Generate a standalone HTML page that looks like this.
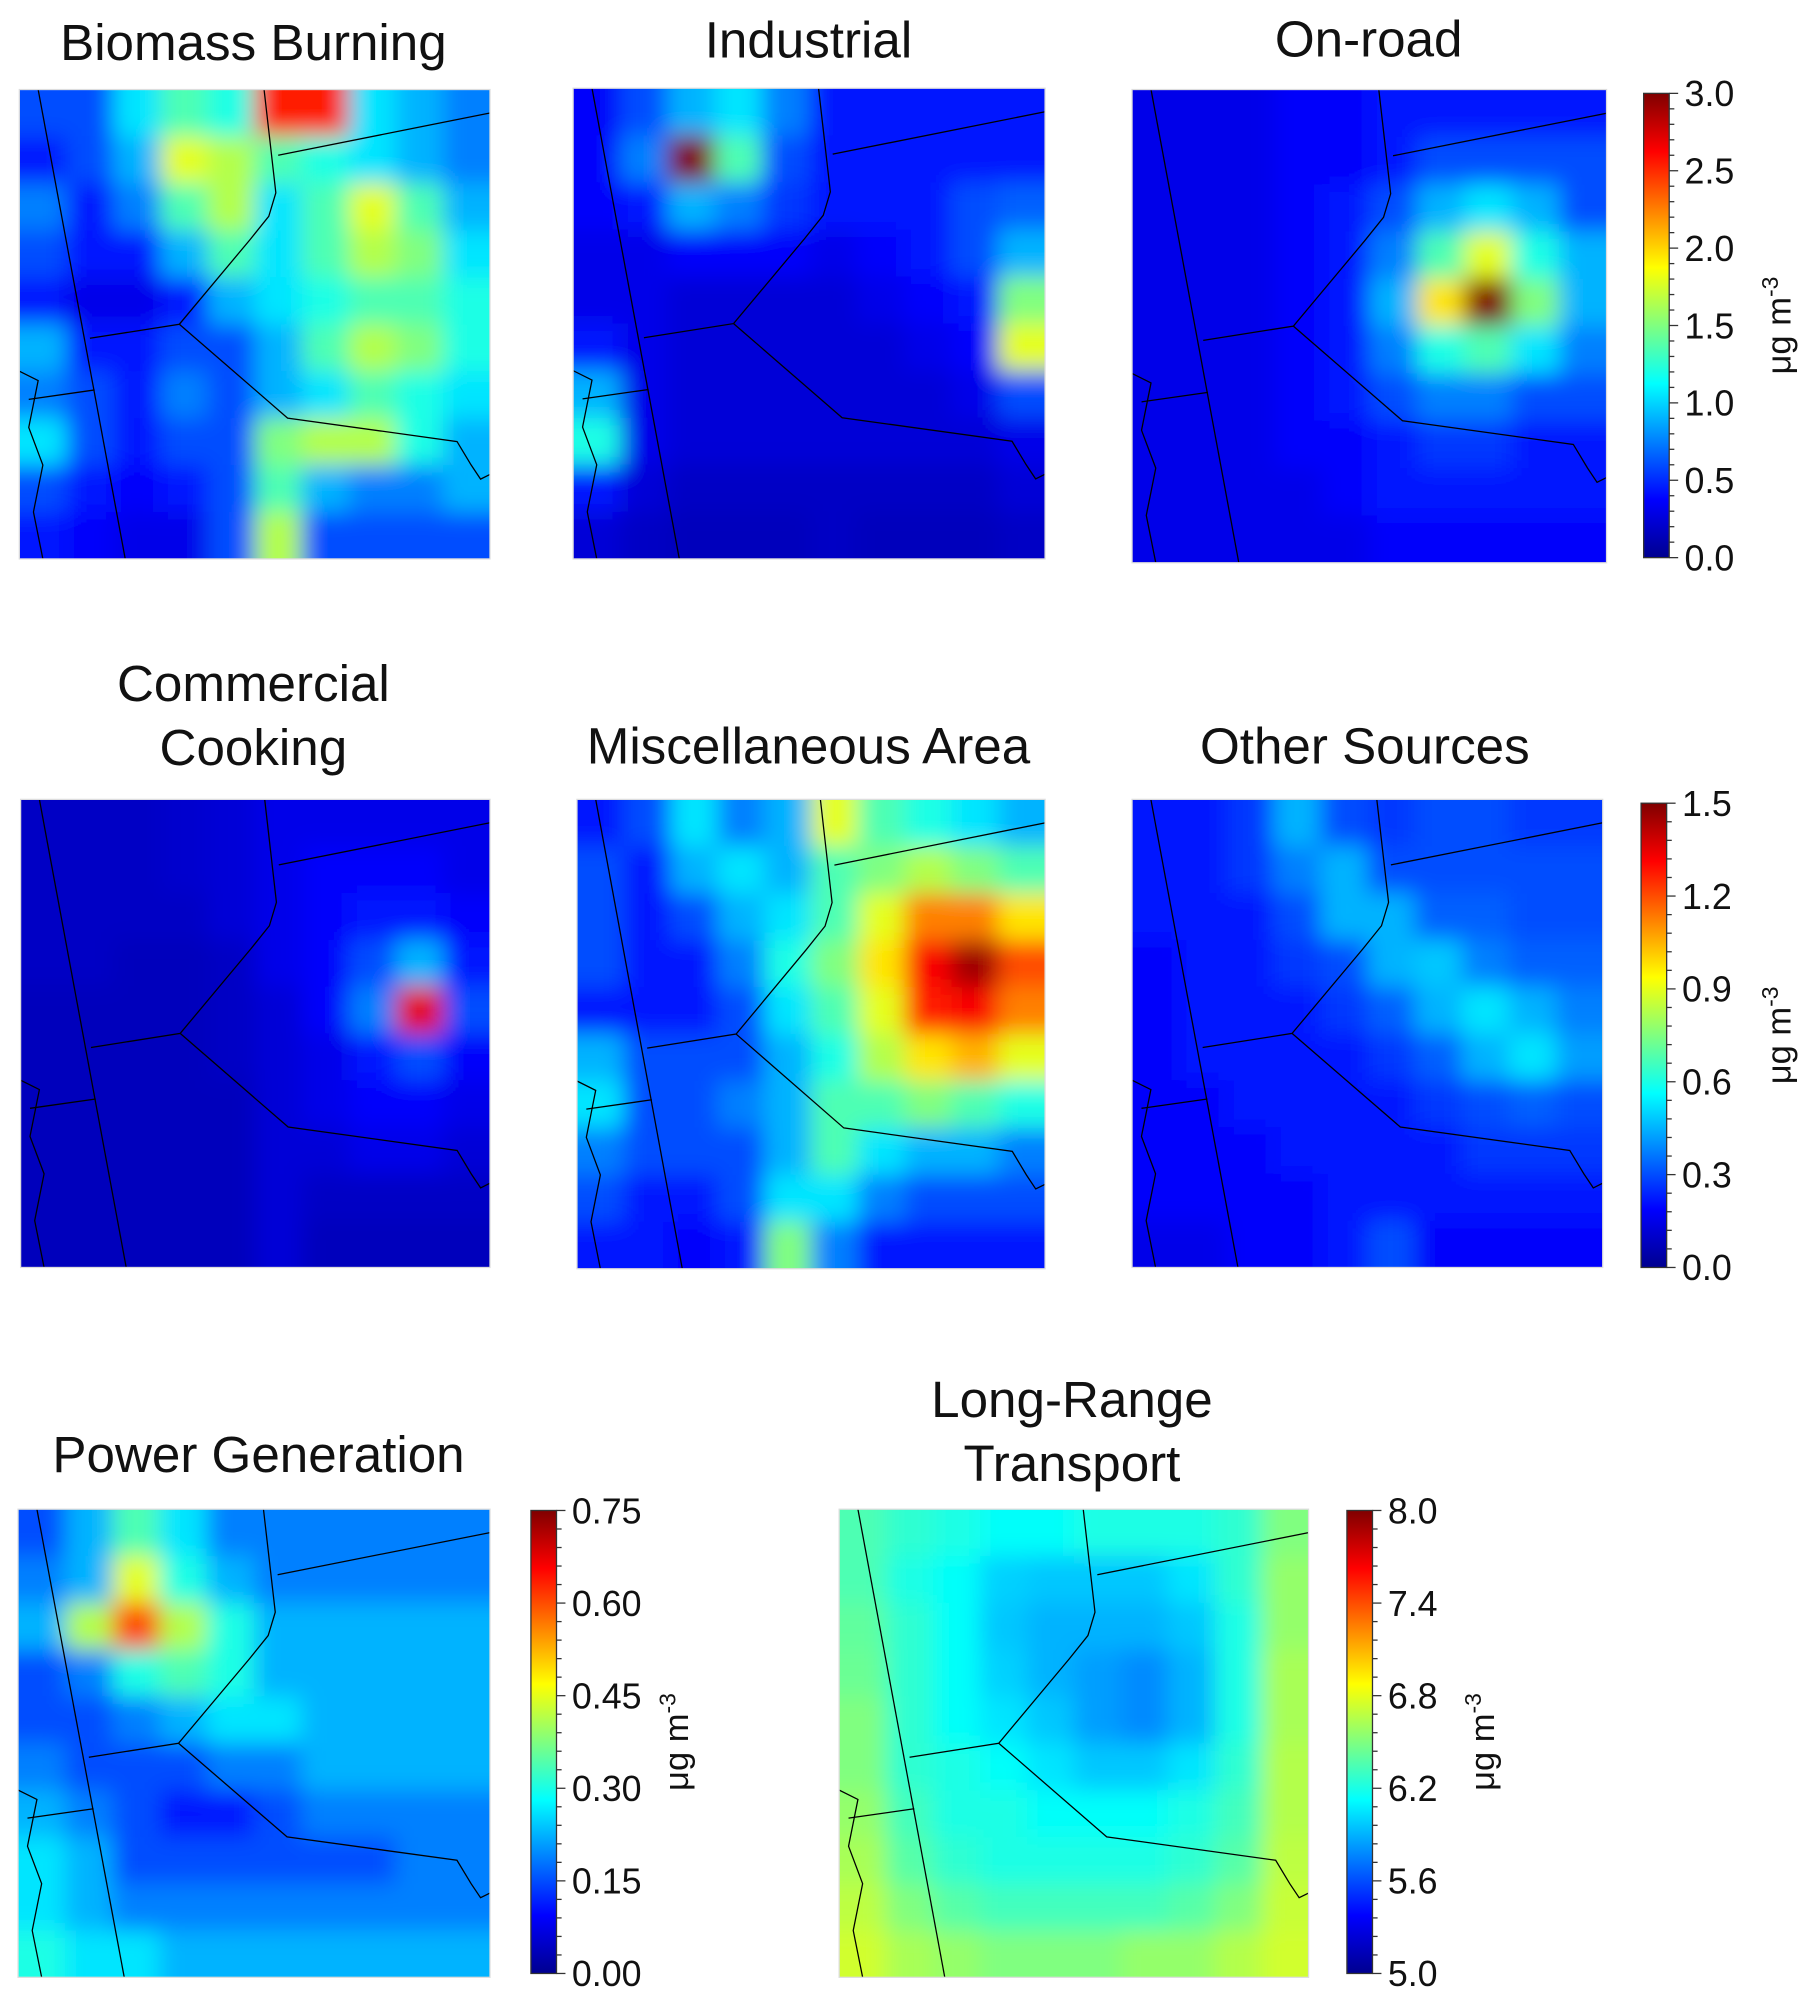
<!DOCTYPE html>
<html><head><meta charset="utf-8"><style>
html,body{margin:0;padding:0;background:#fff;}
svg{display:block;}
text{font-family:"Liberation Sans",Arial,sans-serif;fill:#111;}
</style></head><body>
<svg id="fig" width="1819" height="2008" viewBox="0 0 1422 1570" xmlns="http://www.w3.org/2000/svg">
<defs>
<linearGradient id="jet" x1="0" y1="1" x2="0" y2="0">
<stop offset="0" stop-color="#00008f"/><stop offset="0.125" stop-color="#0000ff"/>
<stop offset="0.375" stop-color="#00ffff"/><stop offset="0.625" stop-color="#ffff00"/>
<stop offset="0.875" stop-color="#ff0000"/><stop offset="1" stop-color="#800000"/>
</linearGradient>
<filter id="blur" x="-0.2" y="-0.2" width="1.4" height="1.4"><feGaussianBlur stdDeviation="9"/></filter>
</defs>
<g id="root"></g>
</svg>
<script>
// normalized values (fraction of each colorbar range), 10x10 grids, rows top->bottom
const biomass=[[.2,.2,.35,.45,.4,.85,.85,.35,.3,.25],[.15,.2,.3,.6,.55,.45,.4,.35,.3,.25],[.25,.15,.25,.45,.55,.35,.45,.6,.45,.3],[.2,.15,.15,.3,.45,.35,.45,.55,.5,.35],[.15,.1,.1,.15,.3,.35,.4,.45,.45,.4],[.3,.15,.15,.2,.2,.3,.45,.55,.5,.4],[.25,.2,.15,.25,.2,.3,.35,.45,.4,.35],[.35,.2,.15,.2,.2,.5,.55,.55,.4,.3],[.2,.15,.12,.15,.2,.45,.3,.25,.25,.3],[.15,.12,.1,.1,.2,.55,.2,.2,.2,.2]];
const industrial=[[.12,.2,.3,.35,.25,.15,.15,.15,.15,.15],[.12,.25,1,.45,.2,.15,.15,.15,.15,.15],[.12,.15,.3,.25,.18,.15,.15,.15,.2,.22],[.1,.1,.12,.12,.12,.1,.12,.15,.2,.3],[.1,.1,.08,.08,.08,.08,.1,.12,.15,.5],[.15,.1,.08,.08,.08,.08,.08,.1,.12,.6],[.3,.1,.08,.08,.08,.08,.08,.08,.1,.2],[.4,.1,.08,.08,.08,.08,.08,.08,.08,.1],[.15,.08,.06,.06,.06,.06,.06,.06,.06,.08],[.08,.06,.05,.05,.05,.06,.05,.05,.05,.06]];
const onroad=[[.1,.1,.1,.12,.12,.15,.15,.15,.15,.15],[.1,.1,.1,.12,.12,.15,.2,.2,.2,.2],[.1,.1,.1,.12,.15,.2,.3,.35,.3,.2],[.1,.1,.1,.12,.15,.25,.45,.6,.4,.3],[.1,.1,.1,.12,.15,.3,.65,1,.5,.3],[.1,.1,.1,.12,.15,.25,.4,.45,.35,.25],[.1,.1,.1,.12,.15,.2,.25,.25,.2,.2],[.1,.1,.1,.12,.12,.15,.18,.18,.15,.15],[.1,.1,.1,.1,.12,.15,.15,.15,.15,.15],[.1,.1,.1,.1,.1,.12,.12,.12,.12,.12]];
const cooking=[[.06,.06,.06,.07,.08,.1,.1,.1,.1,.1],[.06,.06,.06,.07,.08,.1,.12,.12,.12,.1],[.06,.06,.06,.06,.08,.1,.12,.15,.15,.12],[.06,.06,.05,.05,.06,.1,.12,.2,.3,.15],[.05,.05,.05,.05,.06,.08,.12,.25,.9,.2],[.05,.05,.05,.05,.06,.08,.1,.15,.2,.12],[.05,.05,.05,.05,.05,.08,.1,.12,.12,.1],[.05,.05,.05,.05,.05,.08,.08,.1,.1,.08],[.05,.05,.05,.05,.05,.08,.06,.06,.06,.06],[.05,.05,.05,.05,.05,.08,.05,.05,.05,.05]];
const misc=[[.15,.2,.35,.25,.3,.6,.45,.4,.35,.3],[.2,.15,.3,.35,.3,.45,.5,.55,.5,.45],[.2,.15,.2,.3,.35,.45,.6,.75,.75,.65],[.2,.15,.15,.25,.4,.5,.65,.88,.97,.8],[.15,.15,.15,.2,.35,.45,.6,.85,.88,.75],[.3,.2,.2,.2,.3,.4,.55,.65,.7,.6],[.35,.2,.2,.25,.3,.45,.45,.5,.45,.4],[.25,.2,.2,.2,.3,.45,.35,.3,.3,.25],[.2,.15,.15,.2,.35,.35,.25,.2,.2,.2],[.15,.15,.12,.15,.5,.25,.15,.15,.15,.15]];
const other=[[.15,.15,.18,.3,.2,.18,.2,.2,.18,.18],[.15,.15,.18,.25,.3,.2,.2,.2,.2,.2],[.15,.15,.15,.2,.3,.3,.22,.22,.2,.2],[.12,.15,.15,.18,.2,.3,.32,.25,.22,.22],[.12,.15,.15,.15,.18,.22,.3,.35,.3,.25],[.12,.15,.15,.15,.15,.18,.22,.3,.35,.28],[.12,.12,.15,.15,.15,.15,.18,.2,.22,.2],[.12,.12,.12,.15,.15,.15,.15,.18,.18,.18],[.12,.12,.12,.12,.15,.15,.15,.15,.15,.15],[.1,.1,.12,.12,.15,.2,.12,.12,.12,.12]];
const power=[[.2,.3,.45,.35,.25,.25,.25,.25,.25,.25],[.25,.3,.6,.4,.3,.25,.25,.25,.25,.25],[.3,.55,.8,.55,.4,.3,.3,.3,.3,.3],[.2,.25,.4,.45,.4,.3,.3,.3,.3,.3],[.2,.2,.25,.3,.35,.35,.3,.3,.3,.3],[.25,.2,.2,.2,.25,.25,.3,.3,.3,.3],[.3,.25,.2,.15,.15,.2,.25,.25,.25,.25],[.35,.3,.2,.2,.2,.2,.2,.2,.25,.25],[.35,.3,.25,.25,.25,.25,.25,.25,.25,.25],[.4,.35,.35,.3,.3,.3,.3,.3,.3,.3]];
const longrange=[[.45,.42,.4,.38,.38,.4,.4,.4,.42,.5],[.45,.4,.38,.33,.32,.32,.32,.35,.42,.52],[.47,.42,.38,.32,.3,.3,.3,.32,.4,.52],[.48,.42,.38,.33,.3,.28,.26,.3,.4,.54],[.5,.42,.38,.35,.32,.28,.26,.3,.4,.54],[.5,.42,.4,.38,.35,.32,.32,.35,.42,.55],[.52,.44,.4,.4,.38,.38,.38,.4,.44,.55],[.54,.46,.42,.4,.4,.4,.4,.42,.46,.56],[.56,.5,.46,.44,.44,.44,.44,.46,.5,.57],[.58,.54,.52,.5,.5,.5,.52,.52,.55,.58]];
const ticks1=["3.0","2.5","2.0","1.5","1.0","0.5","0.0"];
const ticks2=["1.5","1.2","0.9","0.6","0.3","0.0"];
const ticks3=["0.75","0.60","0.45","0.30","0.15","0.00"];
const ticks4=["8.0","7.4","6.8","6.2","5.6","5.0"];

const NS="http://www.w3.org/2000/svg";
const root=document.getElementById('root');
function mk(tag,attrs,parent){const e=document.createElementNS(NS,tag);for(const k in attrs)e.setAttribute(k,attrs[k]);(parent||root).appendChild(e);return e;}
function jet(v){v=Math.max(0,Math.min(1,v));
 const st=[[0,0,0,143],[.125,0,0,255],[.375,0,255,255],[.625,255,255,0],[.875,255,0,0],[1,128,0,0]];
 for(let i=1;i<st.length;i++){if(v<=st[i][0]){const a=st[i-1],b=st[i],t=(v-a[0])/(b[0]-a[0]);
 return `rgb(${Math.round(a[1]+t*(b[1]-a[1]))},${Math.round(a[2]+t*(b[2]-a[2]))},${Math.round(a[3]+t*(b[3]-a[3]))})`;}}return 'rgb(128,0,0)';}
let cid=0;
function panel(name,grid,x,y,w,h){
 const g=mk('g',{});
 
 
 const id='c'+(cid++);
 const cp=mk('clipPath',{id:id},g);mk('rect',{x:x,y:y,width:w,height:h},cp);
 const cells=mk('g',{'clip-path':`url(#${id})`},g);
 const inner=mk('g',{filter:'url(#blur)'},cells);
 const rows=grid.length,cols=grid[0].length,cw=w/cols,ch=h/rows,pad=30;
 grid.forEach((row,r)=>row.forEach((v,c)=>{
  const x0=x+c*cw-(c===0?pad:0), y0=y+r*ch-(r===0?pad:0);
  const ww=cw+0.5+(c===0?pad:0)+(c===cols-1?pad:0), hh=ch+0.5+(r===0?pad:0)+(r===rows-1?pad:0);
  const re=mk('rect',{x:x0,y:y0,width:ww,height:hh,fill:jet(v)},inner);
  
  
 }));
 const P=(a,b)=>`${x+a*w} ${y+b*h}`;
 const bl=mk('g',{fill:'none',stroke:'#000','stroke-width':1,'clip-path':`url(#${id})`},g);
 
 
 mk('path',{d:`M${P(.04,0)} L${P(.225,1)}`},bl);
 mk('path',{d:`M${P(.52,0)} L${P(.545,.22)} L${P(.53,.27)} L${P(.49,.32)} L${P(.34,.5)} L${P(.15,.53)}`},bl);
 mk('path',{d:`M${P(.34,.5)} L${P(.57,.7)} L${P(.93,.75)} L${P(.96,.8)} L${P(.98,.83)} L${P(1,.82)}`},bl);
 mk('path',{d:`M${P(.55,.14)} L${P(1,.05)}`},bl);
 mk('path',{d:`M${P(0,.6)} L${P(.04,.62)} L${P(.02,.72)} L${P(.05,.8)} L${P(.03,.9)} L${P(.05,1)}`},bl);
 mk('path',{d:`M${P(.02,.66)} L${P(.16,.64)}`},bl);
 mk('rect',{x:x,y:y,width:w,height:h,fill:'none',stroke:'#ddd','stroke-width':1},g);
}
function title(lines,cx,y,name){
 lines.forEach((t,i)=>{const e=mk('text',{x:cx,y:y+i*50,'text-anchor':'middle','font-size':40});e.textContent=t;
 });
}
function cbar(name,x,y0,y1,ticks,ux){
 const g=mk('g',{});
 
 
 mk('rect',{x:x,y:y0,width:20,height:y1-y0,fill:'url(#jet)',stroke:'#333','stroke-width':1},g);
 const n=ticks.length-1;
 for(let i=0;i<=n*5;i++){const yy=y0+(y1-y0)*i/(n*5);mk('line',{x1:x+20,x2:x+(i%5?24:27),y1:yy,y2:yy,stroke:'#333'},g);}
 ticks.forEach((t,i)=>{const yy=y0+(y1-y0)*i/n;const e=mk('text',{x:x+32,y:yy+10,'font-size':28},g);e.textContent=t;
  });
 const u=mk('text',{x:ux,y:(y0+y1)/2,'font-size':27,'text-anchor':'middle',transform:`rotate(-90 ${ux} ${(y0+y1)/2})`},g);
 u.innerHTML='μg m<tspan dy="-10" font-size="18">-3</tspan>';
 
}
title(["Biomass Burning"],198,47,'biomass-title');
title(["Industrial"],632,45,'industrial-title');
title(["On-road"],1070,44,'onroad-title');
panel('biomass-burning-map',biomass,15,70,368,367);
panel('industrial-map',industrial,448,69,369,368);
panel('onroad-map',onroad,885,70,371,370);
cbar('colorbar-row1',1285,73,436,ticks1,1400);
title(["Commercial","Cooking"],198,548,'cooking-title');
title(["Miscellaneous Area"],632,597,'misc-title');
title(["Other Sources"],1067,597,'other-title');
panel('commercial-cooking-map',cooking,16,625,367,366);
panel('misc-area-map',misc,451,625,366,367);
panel('other-sources-map',other,885,625,368,366);
cbar('colorbar-row2',1283,628,991,ticks2,1400);
title(["Power Generation"],202,1151,'power-title');
title(["Long-Range","Transport"],838,1108,'longrange-title');
panel('power-generation-map',power,14,1180,369,366);
cbar('colorbar-power',415,1181,1543,ticks3,538);
panel('long-range-transport-map',longrange,656,1180,367,366);
cbar('colorbar-longrange',1053,1181,1543,ticks4,1168);
</script>
</body></html>
